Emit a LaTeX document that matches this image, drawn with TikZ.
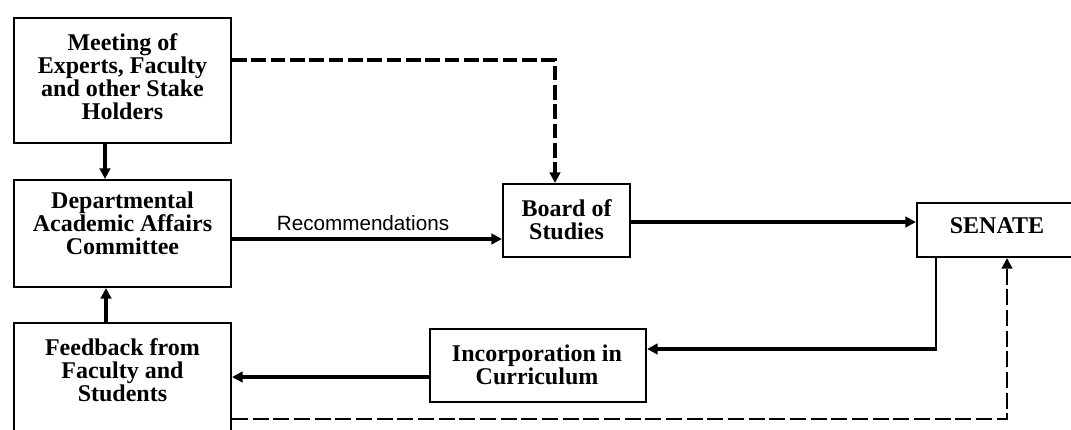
\documentclass[tikz,border=0pt]{standalone}
\usepackage{fontspec}
\setmainfont{Liberation Serif}
\newfontfamily\recfont{Liberation Sans}
\usetikzlibrary{arrows.meta,calc}
\tikzset{
  box/.style={draw, line width=1.6pt, rectangle, inner sep=0pt, fill=white},
  txt/.style={align=center, font=\fontsize{18}{17.3}\selectfont\bfseries, inner sep=0pt},
  arr/.style={line width=2.6pt, -{Triangle[length=8pt,width=8pt]}},
  thinline/.style={line width=1.6pt},
  darr/.style={line width=2.6pt, dash pattern=on 11pt off 3.5pt, -{Triangle[length=8pt,width=8pt]}},
  darrthin/.style={line width=1.8pt, dash pattern=on 12pt off 3.5pt, -{Triangle[length=8pt,width=8pt]}},
}
\begin{document}
\begin{tikzpicture}[x=0.75pt,y=-0.75pt]
\clip (0,0) rectangle (1071,429);
\fill[white] (0,0) rectangle (1071,429);
% boxes
\node[box, minimum width=217*0.75pt, minimum height=125*0.75pt] (meet) at (122.5,80.5) {};
\node[box, minimum width=217*0.75pt, minimum height=107*0.75pt] (dac) at (122.5,233.5) {};
\node[box, minimum width=217*0.75pt, minimum height=130*0.75pt] (fb) at (122.5,388) {};
\node[box, minimum width=127*0.75pt, minimum height=73*0.75pt] (bos) at (566.5,220.5) {};
\node[box, minimum width=180*0.75pt, minimum height=54*0.75pt] (sen) at (1007,230) {};
\node[box, minimum width=216*0.75pt, minimum height=73*0.75pt] (inc) at (538,365.5) {};
% texts
\node[txt] (meett) at (122.5,77) {Meeting of\\Experts, Faculty\\and other Stake\\Holders};
\node[txt] (dact) at (122.5,223) {Departmental\\Academic Affairs\\Committee};
\node[txt] (fbt) at (122.5,370) {Feedback from\\Faculty and\\Students};
\node[txt] (bost) at (566.5,220) {Board of\\Studies};
\node[txt] (sent) at (997,226) {SENATE};
\node[txt] (inct) at (537,365) {Incorporation in\\Curriculum};
\node[font=\recfont\fontsize{15.5}{17}\selectfont, inner sep=0pt] (rec) at (363,223) {Recommendations};
% helper coordinates
\coordinate (ax) at (105,0);
\coordinate (bx) at (106,0);
\coordinate (d1) at (555,60);
\coordinate (ry) at (0,239);
\coordinate (sy) at (0,222);
\coordinate (cc) at (936,349);
\coordinate (iy) at (0,377);
\coordinate (d2) at (1007,419);
% connectors
\draw[arr] (meet.south -| ax) -- (dac.north -| ax);
\draw[arr] (fb.north -| bx) -- (dac.south -| bx);
\draw[darr] (meet.east |- d1) -| (bos.north -| d1);
\draw[arr] (dac.east |- ry) -- (bos.west |- ry);
\draw[arr] (bos.east |- sy) -- (sen.west |- sy);
\draw[thinline] (sen.south -| cc) -- ([yshift=-1pt]cc);
\draw[arr] ([xshift=0.8pt]cc) -- (inc.east |- cc);
\draw[arr] (inc.west |- iy) -- (fb.east |- iy);
\draw[darrthin] (fb.east |- d2) -| (sen.south -| d2);
\end{tikzpicture}
\end{document}
